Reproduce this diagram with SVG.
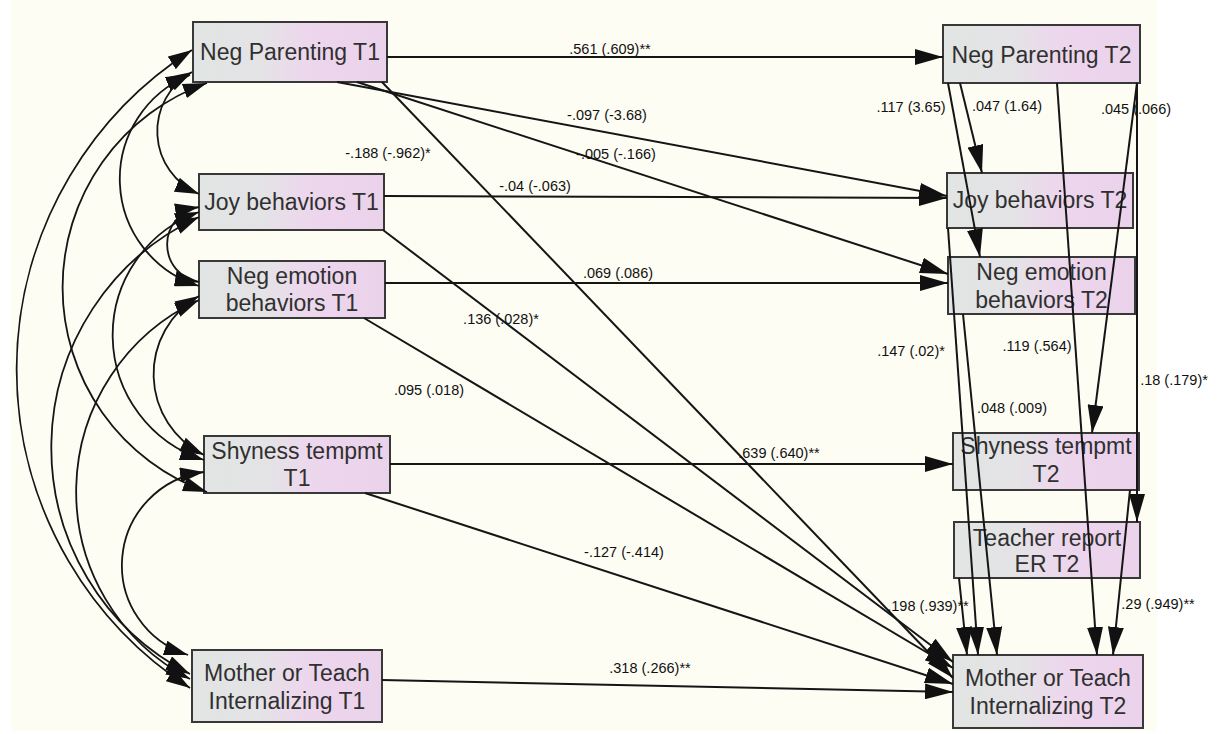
<svg xmlns="http://www.w3.org/2000/svg" width="1224" height="734" viewBox="0 0 1224 734">
  <defs>
    <linearGradient id="boxFill" x1="0" y1="0" x2="1" y2="0">
      <stop offset="0" stop-color="#e1e5e3"/>
      <stop offset="0.35" stop-color="#e4e3e6"/>
      <stop offset="0.58" stop-color="#edd7ed"/>
      <stop offset="1" stop-color="#ebd2eb"/>
    </linearGradient>
    <marker id="arrow" viewBox="0 0 28 16" refX="28" refY="8" markerWidth="28" markerHeight="16" markerUnits="userSpaceOnUse" orient="auto-start-reverse">
      <path d="M0,0 L28,8 L0,16 z" fill="#111"/>
    </marker>
    <marker id="arrowCov" viewBox="0 0 24 15" refX="24" refY="7.5" markerWidth="24" markerHeight="15" markerUnits="userSpaceOnUse" orient="auto-start-reverse">
      <path d="M0,0 L24,7.5 L0,15 z" fill="#111"/>
    </marker>
  </defs>
  <style>
    .box { fill: url(#boxFill); stroke: #383838; stroke-width: 2; }
    .name { font-family: "Liberation Sans", Arial, sans-serif; font-size: 23px; fill: #303030; text-anchor: middle; }
    .path { fill: none; stroke: #151515; stroke-width: 2; marker-end: url(#arrow); }
    .cov { fill: none; stroke: #151515; stroke-width: 1.8; marker-start: url(#arrowCov); marker-end: url(#arrowCov); }
    .coef { font-family: "Liberation Sans", Arial, sans-serif; font-size: 14.5px; fill: #111; text-anchor: middle; }
  </style>

  <!-- canvas -->
  <rect x="0" y="0" width="1224" height="734" fill="#ffffff"/>
  <rect x="11" y="0" width="1146" height="731" fill="#fdfdf4"/>

  <!-- time 1 variables -->
  <g id="neg-parenting-t1">
    <rect class="box" x="193" y="22" width="194" height="60"/>
    <text class="name" x="290" y="60">Neg Parenting T1</text>
  </g>
  <g id="joy-behaviors-t1">
    <rect class="box" x="199" y="174" width="185" height="56"/>
    <text class="name" x="291.5" y="210">Joy behaviors T1</text>
  </g>
  <g id="neg-emotion-t1">
    <rect class="box" x="199" y="261" width="186" height="57"/>
    <text class="name" x="292" y="284">Neg emotion</text>
    <text class="name" x="292" y="311">behaviors T1</text>
  </g>
  <g id="shyness-t1">
    <rect class="box" x="204" y="436" width="186" height="57"/>
    <text class="name" x="297" y="459">Shyness tempmt</text>
    <text class="name" x="297" y="486">T1</text>
  </g>
  <g id="internalizing-t1">
    <rect class="box" x="192" y="650" width="190" height="72"/>
    <text class="name" x="287" y="681">Mother or Teach</text>
    <text class="name" x="287" y="709">Internalizing T1</text>
  </g>

  <!-- time 2 variables -->
  <g id="neg-parenting-t2">
    <rect class="box" x="943" y="25" width="197" height="58"/>
    <text class="name" x="1041.5" y="63">Neg Parenting T2</text>
  </g>
  <g id="joy-behaviors-t2">
    <rect class="box" x="947" y="173" width="186" height="55"/>
    <text class="name" x="1040" y="208">Joy behaviors T2</text>
  </g>
  <g id="neg-emotion-t2">
    <rect class="box" x="948" y="257" width="187" height="57"/>
    <text class="name" x="1041.5" y="280">Neg emotion</text>
    <text class="name" x="1041.5" y="308">behaviors T2</text>
  </g>
  <g id="shyness-t2">
    <rect class="box" x="953" y="433" width="186" height="57"/>
    <text class="name" x="1046" y="454">Shyness tempmt</text>
    <text class="name" x="1046" y="482">T2</text>
  </g>
  <g id="teacher-er-t2">
    <rect class="box" x="954" y="522" width="186" height="56"/>
    <text class="name" x="1047" y="546">Teacher report</text>
    <text class="name" x="1047" y="572">ER T2</text>
  </g>
  <g id="internalizing-t2">
    <rect class="box" x="953" y="655" width="190" height="73"/>
    <text class="name" x="1048" y="686">Mother or Teach</text>
    <text class="name" x="1048" y="714">Internalizing T2</text>
  </g>

  <g id="connectors">
    <!-- covariances among T1 variables -->
    <path class="cov" d="M192,72 A68,68 0 0 0 199,194"/>
    <path class="cov" d="M190,75 A112,112 0 0 0 199,286"/>
    <path class="cov" d="M207,83 A217,217 0 0 0 207,492"/>
    <path class="cov" d="M192,50 A379,379 0 0 0 190,688"/>
    <path class="cov" d="M199,207 A38,38 0 0 0 199,282"/>
    <path class="cov" d="M199,212 A131,131 0 0 0 204,460"/>
    <path class="cov" d="M199,217 A254,254 0 0 0 190,674"/>
    <path class="cov" d="M199,296 A90,90 0 0 0 204,455"/>
    <path class="cov" d="M199,300 A211,211 0 0 0 190,679"/>
    <path class="cov" d="M204,472 A94,94 0 0 0 188,655"/>

    <!-- T1 to T2 paths -->
    <path class="path" d="M387,57 L943,57"/>
    <path class="path" d="M337,82 L947,196"/>
    <path class="path" d="M357,82 L948,274"/>
    <path class="path" d="M382,82 L953,678"/>
    <path class="path" d="M384,196 L947,198"/>
    <path class="path" d="M383,230 L953,662"/>
    <path class="path" d="M385,283 L948,283"/>
    <path class="path" d="M364,318 L953,668"/>
    <path class="path" d="M390,464 L953,464"/>
    <path class="path" d="M365,493 L953,684"/>
    <path class="path" d="M382,680 L953,692"/>

    <!-- paths among T2 variables -->
    <path class="path" d="M960,83 L982,173"/>
    <path class="path" d="M948,83 L980,257"/>
    <path class="path" d="M1137,83 L1092,433"/>
    <path class="path" d="M1137,83 L1137,522"/>
    <path class="path" d="M1057,83 L1097,655"/>
    <path class="path" d="M948,228 L978,655"/>
    <path class="path" d="M963,314 L997,655"/>
    <path class="path" d="M959,578 L967,655"/>
    <path class="path" d="M1130,490 L1113,655"/>
  </g>

  <g id="coefficients">
    <text class="coef" x="610" y="54">.561 (.609)**</text>
    <text class="coef" x="607" y="120">-.097 (-3.68)</text>
    <text class="coef" x="616" y="159">-.005 (-.166)</text>
    <text class="coef" x="388" y="158">-.188 (-.962)*</text>
    <text class="coef" x="535" y="191">-.04 (-.063)</text>
    <text class="coef" x="618" y="278">.069 (.086)</text>
    <text class="coef" x="501" y="324">.136 (.028)*</text>
    <text class="coef" x="429" y="395">.095 (.018)</text>
    <text class="coef" x="779" y="458">.639 (.640)**</text>
    <text class="coef" x="624" y="557">-.127 (-.414)</text>
    <text class="coef" x="650" y="673">.318 (.266)**</text>

    <text class="coef" x="911" y="112">.117 (3.65)</text>
    <text class="coef" x="1007" y="111">.047 (1.64)</text>
    <text class="coef" x="1136" y="114">.045 (.066)</text>
    <text class="coef" x="911" y="356">.147 (.02)*</text>
    <text class="coef" x="1037" y="351">.119 (.564)</text>
    <text class="coef" x="1174" y="385">.18 (.179)*</text>
    <text class="coef" x="1012" y="413">.048 (.009)</text>
    <text class="coef" x="928" y="611">.198 (.939)**</text>
    <text class="coef" x="1158" y="609">.29 (.949)**</text>
  </g>
</svg>
